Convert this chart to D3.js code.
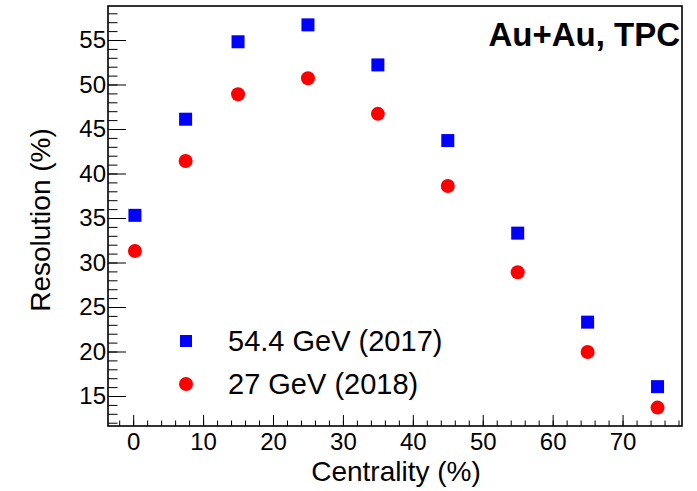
<!doctype html>
<html>
<head>
    <meta charset="utf-8">
    <style>
        body {
            margin: 0;
            background: #fff;
            font-family: 'Liberation Sans', Arial, sans-serif;
        }
        text {
            fill: #000;
        }
        .axis path {
            stroke: none;
        }
        .axis line {
            stroke: #000;
            stroke-width: 1;
        }
        .axis text {
            font-size: 24px;
            font-family: 'Liberation Sans', Arial, sans-serif;
            fill: #000;
        }
        text.title {
            font-size: 28px;
        }
        text.label {
            font-size: 33px;
            font-weight: 700;
        }
        text.legend {
            font-size: 29px;
        }
    </style>
    <script src="https://d3js.org/d3.v7.min.js"></script>
</head>
<body>
<svg width="697" height="491"></svg>
<script>
    // centrality bin centres (%)
    const centrality = [0.25, 7.5, 15, 25, 35, 45, 55, 65, 75]
    // event plane resolution (%)
    const res544 = [35.3, 46.1, 54.8, 56.7, 52.2, 43.7, 33.3, 23.3, 16.05]
    const res27 = [31.3, 41.4, 48.9, 50.7, 46.7, 38.6, 28.9, 19.95, 13.7]

    const seriesNames = ['54.4 GeV (2017)', '27 GeV (2018)']
    const xTicks = [0, 10, 20, 30, 40, 50, 60, 70]
    const yTicks = [15, 20, 25, 30, 35, 40, 45, 50, 55]

    const svg = d3.select('svg')

    const frame = {left: 108, right: 682, top: 6, bottom: 426}

    const x = d3.scaleLinear().domain([-3.6, 78.5]).range([frame.left, frame.right])
    const y = d3.scaleLinear().domain([11.63, 58.82]).range([frame.bottom, frame.top])

    // minor ticks
    svg.append('g')
        .attr('class', 'axis')
        .attr('transform', `translate(0, ${frame.bottom})`)
        .call(d3.axisBottom(x)
            .tickValues(d3.range(-2, 79, 2))
            .tickSize(-5.5)
            .tickFormat(''))

    svg.append('g')
        .attr('class', 'axis')
        .attr('transform', `translate(${frame.left}, 0)`)
        .call(d3.axisLeft(y)
            .tickValues(d3.range(12, 59, 1))
            .tickSize(-9.5)
            .tickFormat(''))

    // major ticks + labels
    svg.append('g')
        .attr('class', 'axis')
        .attr('transform', `translate(0, ${frame.bottom})`)
        .call(d3.axisBottom(x)
            .tickValues(xTicks)
            .tickSize(-11)
            .tickPadding(7))

    svg.append('g')
        .attr('class', 'axis')
        .attr('transform', `translate(${frame.left}, 0)`)
        .call(d3.axisLeft(y)
            .tickValues(yTicks)
            .tickSize(-18)
            .tickPadding(2))

    // frame
    svg.append('rect')
        .attr('x', frame.left)
        .attr('y', frame.top)
        .attr('width', frame.right - frame.left)
        .attr('height', frame.bottom - frame.top)
        .attr('fill', 'none')
        .attr('stroke', '#000')
        .attr('stroke-width', 1.6)

    // data
    const pts544 = centrality.map((c, i) => ({x: c, y: res544[i]}))
    const pts27 = centrality.map((c, i) => ({x: c, y: res27[i]}))

    svg.append('g').selectAll('rect')
        .data(pts544)
        .join('rect')
        .attr('x', d => x(d.x) - 6.5)
        .attr('y', d => y(d.y) - 6.5)
        .attr('width', 13)
        .attr('height', 13)
        .attr('fill', '#0000ff')

    svg.append('g').selectAll('circle')
        .data(pts27)
        .join('circle')
        .attr('cx', d => x(d.x))
        .attr('cy', d => y(d.y))
        .attr('r', 7)
        .attr('fill', '#ff0000')

    // legend
    svg.append('rect')
        .attr('x', 180).attr('y', 335)
        .attr('width', 12).attr('height', 12)
        .attr('fill', '#0000ff')
    svg.append('text')
        .attr('class', 'legend')
        .attr('x', 228).attr('y', 351)
        .text(seriesNames[0])

    svg.append('circle')
        .attr('cx', 186).attr('cy', 384)
        .attr('r', 7)
        .attr('fill', '#ff0000')
    svg.append('text')
        .attr('class', 'legend')
        .attr('x', 228).attr('y', 394)
        .text(seriesNames[1])

    // header
    svg.append('text')
        .attr('class', 'label')
        .attr('x', 680).attr('y', 46)
        .attr('text-anchor', 'end')
        .text('Au+Au, TPC')

    // axis titles
    svg.append('text')
        .attr('class', 'title')
        .attr('x', 396).attr('y', 481)
        .attr('text-anchor', 'middle')
        .text('Centrality (%)')

    svg.append('text')
        .attr('class', 'title')
        .attr('transform', 'translate(50, 220) rotate(-90)')
        .attr('text-anchor', 'middle')
        .text('Resolution (%)')
</script>
</body>
</html>
